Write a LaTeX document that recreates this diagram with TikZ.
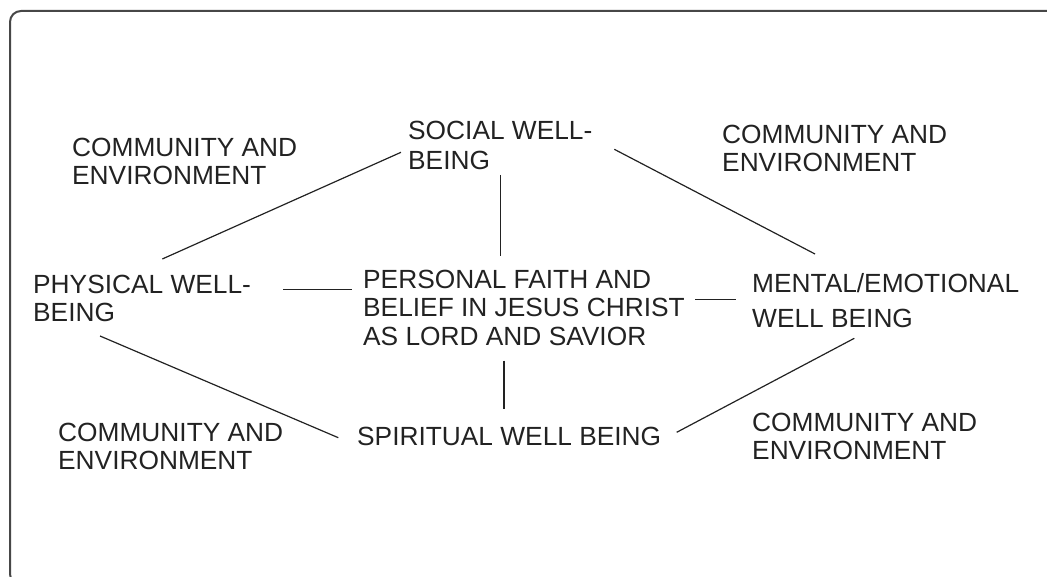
\documentclass[tikz,border=0pt]{standalone}
\usepackage{fontspec}
\setmainfont{Liberation Sans}
\usetikzlibrary{calc}
\definecolor{ink}{HTML}{222222}
\definecolor{frame}{HTML}{474747}
\tikzset{
  label/.style={anchor=base west, inner sep=0pt, align=left, text=ink,
    font=\fontsize{26.3}{28.3}\selectfont},
  wide/.style={font=\fontsize{26.3}{30.6}\selectfont},
  airy/.style={font=\fontsize{26.3}{35}\selectfont},
  link/.style={draw=ink, line width=1.2pt},
  border/.style={draw=frame, line width=2pt, rounded corners=11pt}
}
\begin{document}
\begin{tikzpicture}[x=1pt, y=-1pt]
  \useasboundingbox (0,0) rectangle (1047,577);
  \clip (0,0) rectangle (1047,577);

  % outer frame (runs past the right and bottom edges)
  \draw[border] (10,11) rectangle (1070,585);

  % texts, each placed by the baseline of its last line
  \node[label] (comTL) at (72,185) {COMMUNITY AND\\ENVIRONMENT};
  \node[label, wide] (soc) at (408,170) {SOCIAL WELL-\\BEING};
  \node[label] (comTR) at (722,172) {COMMUNITY AND\\ENVIRONMENT};
  \node[label] (phys) at (33,322) {PHYSICAL WELL-\\BEING};
  \node[label, font=\fontsize{26.3}{28.5}\selectfont] (faith) at (363,345)
    {PERSONAL FAITH AND\\BELIEF IN JESUS CHRIST\\AS LORD AND SAVIOR};
  \node[label, airy] (mental) at (752,327) {MENTAL/EMOTIONAL\\WELL BEING};
  \node[label] (comBL) at (58,469.3) {COMMUNITY AND\\ENVIRONMENT};
  \node[label] (spirit) at (357,445) {SPIRITUAL WELL BEING};
  \node[label] (comBR) at (752,459.3) {COMMUNITY AND\\ENVIRONMENT};

  % connectors
  \draw[link] ($(soc.base west)+(-7,-17.7)$) -- ($(phys.base west)+(129.3,-63)$);
  \draw[link] ($(soc.base west)+(92.3,5)$) -- ($(faith.base west)+(137.3,-89.3)$);
  \draw[link] ($(soc.base west)+(206.3,-20.7)$) -- ($(mental.base west)+(63,-73)$);
  \draw[link] ($(phys.base west)+(250.3,-32.3)$) -- ($(faith.base west)+(-11.3,-55.3)$);
  \draw[link] ($(faith.base west)+(332,-45.5)$) -- ($(mental.base west)+(-16,-27.5)$);
  \draw[link] ($(faith.base west)+(141,15.7)$) -- ($(spirit.base west)+(147,-36)$);
  \draw[link] ($(phys.base west)+(67,14)$) -- ($(spirit.base west)+(-18.7,-7.3)$);
  \draw[link] ($(spirit.base west)+(319.7,-12.7)$) -- ($(mental.base west)+(102.3,11.3)$);
\end{tikzpicture}
\end{document}
